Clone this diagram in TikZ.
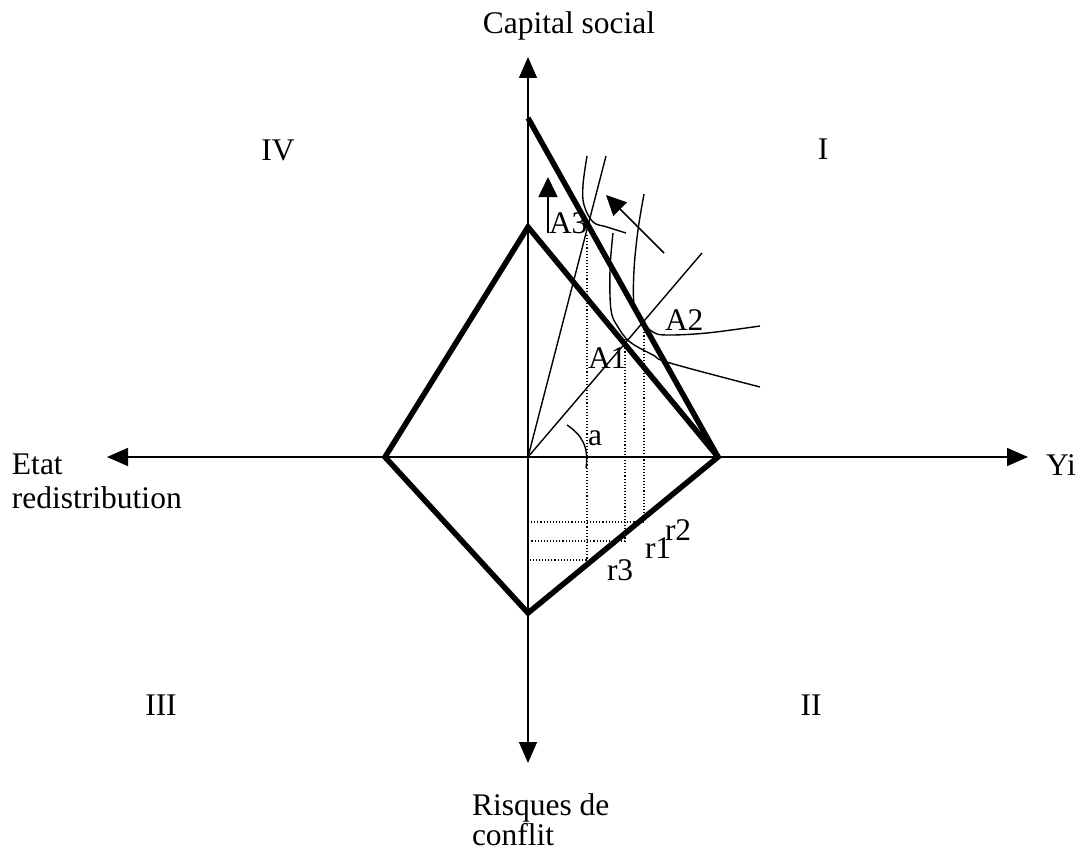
\documentclass[tikz,border=0pt]{standalone}
\usepackage{fontspec}
\setmainfont{Liberation Serif}
\usetikzlibrary{arrows.meta}
\begin{document}
\begin{tikzpicture}[x=1pt,y=-1pt,
  lbl/.style={inner sep=0pt, outer sep=0pt, font=\fontsize{31.5}{35}\selectfont},
  axisarrow/.style={line width=1.5pt, -{Triangle[length=21pt,width=18pt]}},
  smallarrow/.style={line width=1.5pt, -{Triangle[length=20pt,width=19pt]}},
  thickedge/.style={line width=5.5pt},
  thinline/.style={line width=1.4pt},
  dots/.style={line width=1.1pt, dash pattern=on 1.1pt off 2pt}]
\useasboundingbox (0,0) rectangle (1085,851);

% key points
\coordinate (O) at (528,457);
\coordinate (Xr) at (1028,457);
\coordinate (Xl) at (107,457);
\coordinate (Yt) at (528,57);
\coordinate (Yb) at (528,763);
\coordinate (L) at (385,457);
\coordinate (Tin) at (528,227);
\coordinate (Tout) at (528,118);
\coordinate (R) at (718,457);
\coordinate (B) at (528,613);
\coordinate (Ray1) at (702,253);
\coordinate (Ray2) at (606,156);

% axes
\draw[axisarrow] (O) -- (Xr);
\draw[axisarrow] (O) -- (Xl);
\draw[axisarrow] (O) -- (Yt);
\draw[axisarrow] (O) -- (Yb);

% dotted projections
\coordinate (P3) at (587,235);
\coordinate (P3b) at (587,560);
\coordinate (P1) at (625,339);
\coordinate (P1b) at (625,541);
\coordinate (P2) at (644,323);
\coordinate (P2b) at (644,516);
\coordinate (H3) at (528,560);
\coordinate (H1) at (528,541);
\coordinate (H2) at (528,522);
\coordinate (H2e) at (643,522);
\draw[dots] (P3) -- (P3b) -- (H3);
\draw[dots] (P1) -- (P1b) -- (H1);
\draw[dots] (P2) -- (P2b);
\draw[dots] (H2) -- (H2e);

% rays from origin
\draw[thinline] (O) -- (Ray1);
\draw[thinline] (O) -- (Ray2);

% thick kite and budget line
\draw[thickedge] (L) -- (Tin) -- (R) -- (B) -- cycle;
\draw[thickedge] (Tout) -- (R);

% indifference curves
\draw[thinline] plot[smooth, tension=0.6] coordinates {(587,156) (583,185) (584,205) (593,222) (607,227) (626,233)};
\draw[thinline] plot[smooth, tension=0.6] coordinates {(613,233) (610,270) (611,310) (618,327) (630,342) (653,355) (670,363) (760,387)};
\draw[thinline] plot[smooth, tension=0.6] coordinates {(644,194) (638,230) (634,270) (634,305) (640,320) (653,332) (667,335) (707,333) (760,326)};

% arrows
\coordinate (Va) at (548,233);
\coordinate (Vb) at (548,177);
\draw[smallarrow] (Va) -- (Vb);
\coordinate (Da) at (664,253);
\coordinate (Db) at (606,195);
\draw[smallarrow] (Da) -- (Db);

% angle arc
\coordinate (Aa) at (567,425);
\coordinate (Ab) at (586,468);
\draw[thinline] (Aa) .. controls (582,435) and (589,447) .. (Ab);

% labels
\node[lbl, anchor=base] (cap) at (569,34) {Capital social};
\node[lbl, anchor=base] (q4) at (278,160) {IV};
\node[lbl, anchor=base] (q1) at (823,159) {I};
\node[lbl, anchor=base] (q3) at (161,715) {III};
\node[lbl, anchor=base] (q2) at (811,715) {II};
\node[lbl, anchor=base west] (etat) at (12,474) {Etat};
\node[lbl, anchor=base west] (redis) at (12,508) {redistribution};
\node[lbl, anchor=base west] (yi) at (1046,475) {Yi};
\node[lbl, anchor=base west] (risq) at (472,815) {Risques de};
\node[lbl, anchor=base west] (conf) at (472,845) {conflit};
\node[lbl, anchor=base west] (a3) at (549,233) {A3};
\node[lbl, anchor=base west] (a2) at (665,330) {A2};
\node[lbl, anchor=base west] (a1) at (588,368) {A1};
\node[lbl, anchor=base west] (al) at (588,445) {a};
\node[lbl, anchor=base west] (r3) at (607,580) {r3};
\node[lbl, anchor=base west] (r1) at (645,558) {r1};
\node[lbl, anchor=base west] (r2) at (665,540) {r2};
\end{tikzpicture}
\end{document}
